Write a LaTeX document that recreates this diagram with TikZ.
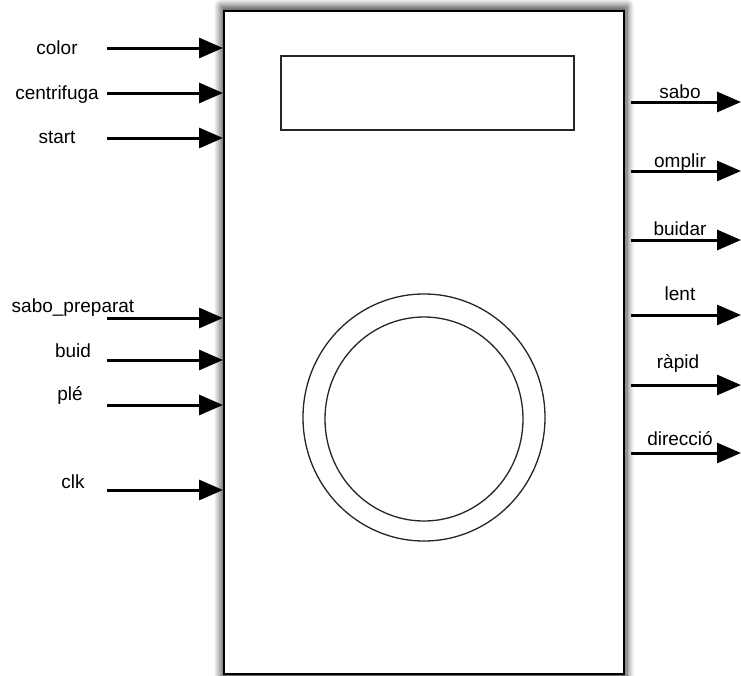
\documentclass[tikz,border=0pt]{standalone}
\usepackage{fontspec}
\setmainfont{Liberation Sans}
\usetikzlibrary{arrows.meta,shapes.geometric,shadows.blur}

\tikzset{
  frame/.style={draw, line width=2pt, fill=white, inner sep=0pt,
    blur shadow={shadow xshift=0pt, shadow yshift=0pt, shadow scale=1.015,
      shadow blur radius=7pt, shadow blur steps=12, shadow opacity=75}},
  panel/.style={draw=black!85, line width=1.4pt, inner sep=0pt},
  ring/.style={ellipse, draw=black!85, line width=1.3pt, inner sep=0pt},
  sig/.style={line width=3pt, -{Triangle[length=24pt, width=20pt]}},
  lbl/.style={anchor=base, inner sep=0pt, font=\fontsize{19}{22}\selectfont},
}

\begin{document}
\begin{tikzpicture}[x=1pt, y=-1pt]
  \useasboundingbox (0,0) rectangle (741,675);

  % washing machine body, display and drum
  \node[frame, minimum width=400pt, minimum height=663pt] (box) at (424,342.5) {};
  \node[panel, minimum width=293pt, minimum height=74pt] (display) at (427.5,93) {};
  \node[ring, minimum width=242pt, minimum height=247pt] (drum) at (424,417.5) {};
  \node[ring, minimum width=198pt, minimum height=204pt] (tub) at (424,419) {};

  % inputs
  \coordinate (i1) at (107,48);
  \coordinate (i2) at (107,93);
  \coordinate (i3) at (107,138);
  \coordinate (i4) at (107,318);
  \coordinate (i5) at (107,360);
  \coordinate (i6) at (107,405);
  \coordinate (i7) at (107,490);
  \foreach \c in {i1,i2,i3,i4,i5,i6,i7}
    \draw[sig] (\c) -- (\c -| box.west);

  \node[lbl] (lcolor) at (57,54) {color};
  \node[lbl] (lcentrifuga) at (57,99) {centrifuga};
  \node[lbl] (lstart) at (57,143) {start};
  \node[lbl] (lsabop) at (73,312) {sabo\_preparat};
  \node[lbl] (lbuid) at (73,357) {buid};
  \node[lbl] (lple) at (70,400) {plé};
  \node[lbl] (lclk) at (73,488) {clk};

  % outputs
  \coordinate (o1) at (741,102);
  \coordinate (o2) at (741,171);
  \coordinate (o3) at (741,240);
  \coordinate (o4) at (741,315);
  \coordinate (o5) at (741,385);
  \coordinate (o6) at (741,453);
  \foreach \c in {o1,o2,o3,o4,o5,o6}
    \draw[sig] (\c -| box.east) ++(6,0) -- (\c);

  \node[lbl] (lsabo) at (680,98) {sabo};
  \node[lbl] (lomplir) at (680,167) {omplir};
  \node[lbl] (lbuidar) at (680,235) {buidar};
  \node[lbl] (llent) at (680,300) {lent};
  \node[lbl] (lrapid) at (678,368) {ràpid};
  \node[lbl] (ldir) at (680,445) {direcció};
\end{tikzpicture}
\end{document}
